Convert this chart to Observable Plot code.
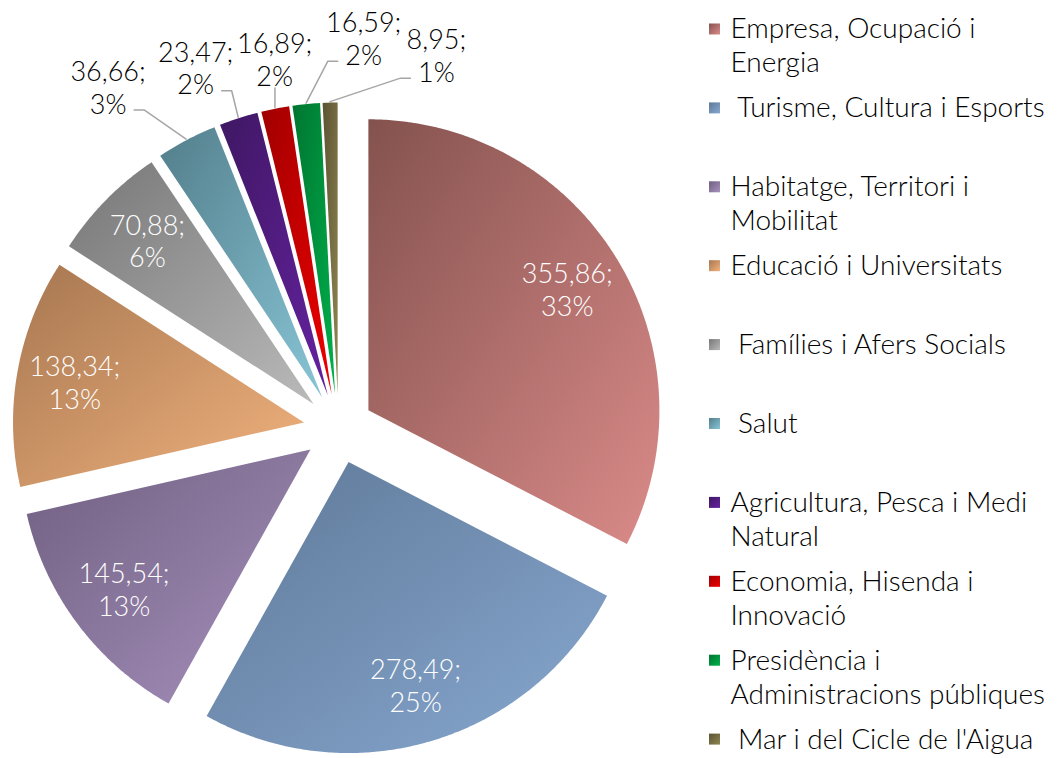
<!DOCTYPE html>
<html><head><meta charset="utf-8">
<script src="https://cdn.jsdelivr.net/npm/d3@7"></script>
<script src="https://cdn.jsdelivr.net/npm/@observablehq/plot@0.6"></script>
<style>body{margin:0;background:#fff;}</style>
</head><body><div id="chart"></div>
<script>
// ---- data ----
const categories = ["Empresa, Ocupació i Energia", "Turisme, Cultura i Esports", "Habitatge, Territori i Mobilitat", "Educació i Universitats", "Famílies i Afers Socials", "Salut", "Agricultura, Pesca i Medi Natural", "Economia, Hisenda i Innovació", "Presidència i Administracions públiques", "Mar i del Cicle de l'Aigua"];
const legendLines = [["Empresa, Ocupació i", "Energia"], ["\u00a0Turisme, Cultura i Esports"], ["Habitatge, Territori i", "Mobilitat"], ["Educació i Universitats"], ["\u00a0Famílies i Afers Socials"], ["\u00a0Salut"], ["Agricultura, Pesca i Medi", "Natural"], ["Economia, Hisenda i", "Innovació"], ["Presidència i", "Administracions públiques"], ["\u00a0Mar i del Cicle de l'Aigua"]];
const values = [355.86, 278.49, 145.54, 138.34, 70.88, 36.66, 23.47, 16.89, 16.59, 8.95];
const valueLabels = ["355,86;", "278,49;", "145,54;", "138,34;", "70,88;", "36,66;", "23,47;", "16,89;", "16,59;", "8,95;"];
const percentLabels = ["33%", "25%", "13%", "13%", "6%", "3%", "2%", "2%", "2%", "1%"];
const darkColors = ["#84524e", "#5e7897", "#6f5f80", "#a67650", "#767676", "#537e8b", "#3f1763", "#a00000", "#007530", "#5b5232"];
const lightColors = ["#da8b89", "#88a8d0", "#a791bd", "#f2b37e", "#bababa", "#88c5d6", "#6522a0", "#ee0000", "#00b04c", "#8e8652"];
// outside labels (slice index, polar placement around pie centre, leader side)
const outsideLabels = [
  {i: 5, angle: 326, radius: 412, side: "left"},
  {i: 6, angle: 338.4, radius: 388, side: "left"},
  {i: 7, angle: 350.2, radius: 375, side: "bottom"},
  {i: 8, angle: 3.7, radius: 391, side: "right"},
  {i: 9, angle: 14.7, radius: 386, side: "right"}
];

// ---- layout ----
const W = 1064, H = 758;
const cx = 338, cy = 428, R = 291, explode = 35;
const legendX = 709, legendTop = 29, legendStep = 78.9, legendLine = 34, swatch = 11;
const font = "Lato, 'Open Sans', sans-serif";
const fs = 27, legendFs = 28;

const arcs = d3.pie().sort(null).value(d => d)(values);
const slices = arcs.map((p, i) => {
  const mid = (p.startAngle + p.endAngle) / 2;
  const ox = cx + explode * Math.sin(mid), oy = cy - explode * Math.cos(mid);
  return {i, p, mid, ox, oy};
});

const slicePts = [];
slices.forEach(s => {
  const {p, ox, oy, i} = s;
  slicePts.push({i, x: ox, y: oy});
  const n = Math.max(2, Math.ceil((p.endAngle - p.startAngle) / (Math.PI / 360)));
  for (let k = 0; k <= n; k++) {
    const a = p.startAngle + (p.endAngle - p.startAngle) * k / n;
    slicePts.push({i, x: ox + R * Math.sin(a), y: oy - R * Math.cos(a)});
  }
  slicePts.push({i, x: ox, y: oy});
});

// inside labels
const insideLabels = slices.filter(s => !outsideLabels.some(o => o.i === s.i)).map(s => ({
  x: s.ox + 0.8 * R * Math.sin(s.mid),
  y: s.oy - 0.8 * R * Math.cos(s.mid),
  text: valueLabels[s.i] + "\n" + percentLabels[s.i]
}));

// outside labels + leaders
const outTexts = [], leaderPts = [];
outsideLabels.forEach(o => {
  const s = slices[o.i];
  const a = o.angle * Math.PI / 180;
  const lx = cx + o.radius * Math.sin(a), ly = cy - o.radius * Math.cos(a);
  outTexts.push({x: lx, y: ly, text: valueLabels[o.i] + "\n" + percentLabels[o.i]});
  const ax = s.ox + (R + 1) * Math.sin(s.mid), ay = s.oy - (R + 1) * Math.cos(s.mid);
  const line2y = ly + 16;
  if (o.side === "bottom") {
    leaderPts.push({i: o.i, x: ax, y: ay}, {i: o.i, x: ax, y: line2y + 13});
  } else {
    const dir = o.side === "left" ? 1 : -1;
    const ex = lx + dir * 26, ey = line2y + 7;
    leaderPts.push({i: o.i, x: ax, y: ay}, {i: o.i, x: ex + dir * 10, y: ey}, {i: o.i, x: ex, y: ey});
  }
});

// legend
const legendRows = [];
legendLines.forEach((lines, i) => lines.forEach((t, j) => legendRows.push({i, x: legendX + 21, y: legendTop + legendStep * i + legendLine * j, text: t})));
const swatches = categories.map((c, i) => ({i, x1: legendX, x2: legendX + swatch, y1: legendTop + legendStep * i - swatch / 2, y2: legendTop + legendStep * i + swatch / 2}));

const chart = Plot.plot({
  width: W, height: H,
  margin: 0,
  x: {domain: [0, W], range: [0, W], axis: null},
  y: {domain: [0, H], range: [0, H], axis: null},
  color: {type: "identity"},
  style: {fontFamily: font, background: "#fff"},
  marks: [
    Plot.line(slicePts, {x: "x", y: "y", z: "i", fill: d => `url(#grad${d.i})`, stroke: null, curve: "linear"}),
    Plot.line(leaderPts, {x: "x", y: "y", z: "i", stroke: "#a6a6a6", strokeWidth: 1.5}),
    Plot.text(insideLabels, {x: "x", y: "y", text: "text", fill: "#fff", fontSize: fs, fontWeight: 300, lineHeight: 1.2}),
    Plot.text(outTexts, {x: "x", y: "y", text: "text", fill: "#000", fontSize: fs, fontWeight: 300, lineHeight: 1.2}),
    Plot.rect(swatches, {x1: "x1", x2: "x2", y1: "y1", y2: "y2", fill: d => `url(#grad${d.i})`}),
    Plot.text(legendRows, {x: "x", y: "y", text: "text", textAnchor: "start", fill: "#000", fontSize: legendFs, fontWeight: 300})
  ]
});

const defs = d3.select(chart).insert("defs", ":first-child");
categories.forEach((c, i) => {
  const g = defs.append("linearGradient").attr("id", `grad${i}`).attr("x1", 0).attr("y1", 0).attr("x2", 1).attr("y2", 1);
  g.append("stop").attr("offset", "0%").attr("stop-color", darkColors[i]);
  g.append("stop").attr("offset", "100%").attr("stop-color", lightColors[i]);
});
document.getElementById("chart").appendChild(chart);
</script>
</body></html>
